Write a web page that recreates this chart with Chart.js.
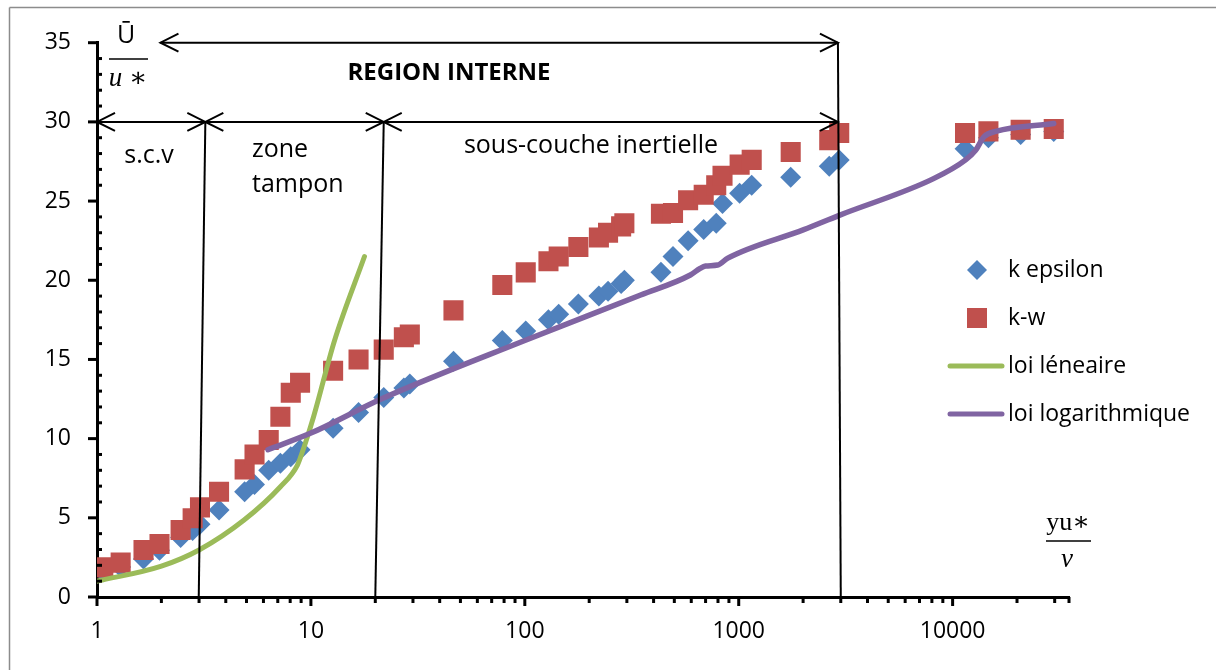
<!DOCTYPE html>
<html>
<head>
<meta charset="utf-8">
<script src="https://cdn.jsdelivr.net/npm/chart.js@4.4.0/dist/chart.umd.min.js"></script>
<style>
  html, body { margin: 0; padding: 0; background: #fff; }
  #wrap { width: 1216px; height: 670px; }
</style>
</head>
<body>
<div id="wrap"><canvas id="c" width="1216" height="670"></canvas></div>
<script>
// y+ positions shared by both simulated profiles
const yPlus = [1.07, 1.29, 1.65, 1.96, 2.46, 2.8, 3.03, 3.72, 4.9, 5.45, 6.35, 7.2, 8.05, 8.9,
  12.7, 16.7, 21.9, 27.2, 29, 46.4, 78.5, 101, 129, 144, 178, 222, 245, 282, 292, 433, 493,
  580, 686, 785, 840, 1010, 1150, 1750, 2650, 2950, 11430, 14700, 20800, 29700];

// U+ from the k-epsilon model
const uKEpsilon = [1.6, 1.9, 2.4, 2.95, 3.75, 4.2, 4.6, 5.5, 6.65, 7.1, 8.0, 8.44, 8.86, 9.3,
  10.65, 11.65, 12.6, 13.2, 13.45, 14.88, 16.2, 16.8, 17.5, 17.85, 18.5, 19.0, 19.3, 19.8, 20.0,
  20.5, 21.5, 22.5, 23.2, 23.6, 24.85, 25.5, 26.0, 26.5, 27.2, 27.6, 28.3, 29.0, 29.2, 29.4];

// U+ from the k-omega model
const uKOmega = [1.87, 2.17, 2.97, 3.35, 4.23, 4.97, 5.66, 6.65, 8.06, 9.0, 9.91, 11.38, 12.9,
  13.53, 14.29, 15.0, 15.62, 16.4, 16.58, 18.1, 19.7, 20.5, 21.2, 21.5, 22.1, 22.7, 23.0, 23.4,
  23.6, 24.2, 24.25, 25.05, 25.4, 26.0, 26.6, 27.3, 27.6, 28.1, 28.85, 29.3, 29.3, 29.4, 29.5, 29.55];

// Linear law (viscous sublayer)
const linX = [1, 2, 3, 4.87, 7.2, 8.65, 9.3, 10.3, 12.9, 17.8];
const linY = [1, 1.95, 2.97, 4.86, 6.96, 8.33, 9.49, 11.4, 16.2, 21.5];

// Logarithmic law
const logX = [6.3, 10, 21.3, 100, 348, 594, 660, 700, 797, 889, 2015, 2950, 8100, 11500, 12800, 14000, 15900, 29700];
const logY = [9.3, 10.35, 12.5, 16.2, 19.07, 20.33, 20.75, 20.9, 20.96, 21.4, 23.2, 24.1, 26.4, 27.6, 28.2, 29.05, 29.4, 29.9];

// Axis ticks
const xDecades = [1, 10, 100, 1000, 10000];
const xMinor = [2,3,4,5,6,7,8,9, 20,30,40,50,60,70,80,90, 200,300,400,500,600,700,800,900,
  2000,3000,4000,5000,6000,7000,8000,9000, 20000, 30000, 35000];
const yTickLabels = [0, 5, 10, 15, 20, 25, 30, 35];

const FONT = '"Open Sans", "DejaVu Sans", sans-serif';
const MATH = '"Liberation Serif", "DejaVu Serif", serif';
const BLUE = '#4F81BD', RED = '#C0504D', GREEN = '#9BBB59', PURPLE = '#8064A2';

const pts = (xs, ys) => xs.map((v, i) => ({ x: v, y: ys[i] }));

// Boundaries and labels of the near-wall regions (data units)
const dividers = [
  [3.21, 30, 2.99, 0],
  [21.9, 30, 20.0, 0],
  [2910, 35, 3000, 0]
];
const arrowsDef = [
  [1.98, 35, 2910, 35],
  [1, 30, 3.21, 30],
  [3.21, 30, 21.9, 30],
  [21.9, 30, 2910, 30]
];

function seg(ctx, x1, y1, x2, y2) {
  ctx.beginPath(); ctx.moveTo(x1, y1); ctx.lineTo(x2, y2); ctx.stroke();
}
function head(ctx, tx, ty, dir) {
  const L = 18, W = 9;
  ctx.beginPath();
  ctx.moveTo(tx - dir * L, ty - W);
  ctx.lineTo(tx, ty);
  ctx.lineTo(tx - dir * L, ty + W);
  ctx.stroke();
}

const regions = {
  id: 'regions',
  afterDatasetsDraw(chart) {
    const { ctx, scales: { x, y } } = chart;
    const px = v => x.getPixelForValue(v), py = v => y.getPixelForValue(v);
    ctx.save();
    ctx.strokeStyle = '#000';
    ctx.lineWidth = 2;
    dividers.forEach(d => seg(ctx, px(d[0]), py(d[1]), px(d[2]), py(d[3])));
    arrowsDef.forEach(a => {
      const x1 = px(a[0]), y1 = py(a[1]), x2 = px(a[2]), y2 = py(a[3]);
      seg(ctx, x1, y1, x2, y2);
      head(ctx, x1, y1, -1);
      head(ctx, x2, y2, 1);
    });
    ctx.fillStyle = '#000';
    ctx.textBaseline = 'alphabetic';
    ctx.font = 'bold 24px ' + FONT;
    ctx.textAlign = 'center';
    ctx.fillText('REGION INTERNE', 449, 80);
    ctx.font = '25px ' + FONT;
    ctx.fillText('s.c.v', 149, 163);
    ctx.fillText('sous-couche inertielle', 591, 153);
    ctx.textAlign = 'left';
    ctx.fillText('zone', 252, 157);
    ctx.fillText('tampon', 252, 192);
    ctx.restore();
  }
};

const axisDecor = {
  id: 'axisDecor',
  afterDraw(chart) {
    const { ctx, scales: { x, y }, chartArea: ca } = chart;
    ctx.save();
    ctx.strokeStyle = '#000';
    ctx.lineWidth = 3;
    // y: major ticks outside, minor ticks inside
    for (let v = 0; v <= 35; v++) {
      const p = y.getPixelForValue(v);
      if (v % 5 === 0) seg(ctx, ca.left - 9, p, ca.left, p);
      else seg(ctx, ca.left, p, ca.left + 5, p);
    }
    // x: all ticks outside
    xDecades.forEach(v => { const p = x.getPixelForValue(v); seg(ctx, p, ca.bottom, p, ca.bottom + 9); });
    xMinor.forEach(v => { const p = x.getPixelForValue(v); seg(ctx, p, ca.bottom, p, ca.bottom + 6); });

    // axis titles written as fractions
    ctx.fillStyle = '#000';
    ctx.textAlign = 'center';
    ctx.textBaseline = 'alphabetic';
    ctx.font = '25px ' + FONT;
    ctx.fillText('Ū', 126, 43);
    ctx.lineWidth = 1.5;
    seg(ctx, 109, 59, 148, 59);
    ctx.font = 'italic 27px ' + MATH;
    ctx.fillText('u ∗', 128, 86);

    ctx.font = '26px ' + MATH;
    ctx.fillText('yu∗', 1068, 530);
    seg(ctx, 1046, 541, 1091, 541);
    ctx.font = 'italic 27px ' + MATH;
    ctx.fillText('ν', 1067, 567);

    // outer frame
    ctx.strokeStyle = '#8c8c8c';
    ctx.lineWidth = 1.5;
    seg(ctx, 9.5, 7.5, 1216, 7.5);
    seg(ctx, 9.5, 7.5, 9.5, 670);
    ctx.restore();
  }
};

const sideLegend = {
  id: 'sideLegend',
  afterDraw(chart) {
    const { ctx } = chart;
    const ds = chart.data.datasets;
    const rows = [
      { d: ds[0], y: 270 }, { d: ds[1], y: 318 }, { d: ds[2], y: 366 }, { d: ds[3], y: 414 }
    ];
    ctx.save();
    rows.forEach(r => {
      const d = r.d;
      if (d.showLine) {
        ctx.strokeStyle = d.borderColor; ctx.lineWidth = 5; ctx.lineCap = 'round';
        seg(ctx, 950, r.y, 1002, r.y);
      } else if (d.pointStyle === 'rect') {
        ctx.fillStyle = d.backgroundColor;
        ctx.fillRect(967, r.y - 10, 20, 20);
      } else {
        ctx.fillStyle = d.backgroundColor;
        ctx.beginPath();
        ctx.moveTo(977, r.y - 10); ctx.lineTo(987, r.y); ctx.lineTo(977, r.y + 10); ctx.lineTo(967, r.y);
        ctx.closePath(); ctx.fill();
      }
      ctx.fillStyle = '#000';
      ctx.font = '23px ' + FONT;
      ctx.textAlign = 'left';
      ctx.textBaseline = 'middle';
      ctx.fillText(d.label, 1008, r.y);
    });
    ctx.restore();
  }
};

new Chart(document.getElementById('c'), {
  type: 'scatter',
  data: {
    datasets: [
      { label: 'k epsilon', data: pts(yPlus, uKEpsilon), pointStyle: 'rectRot', pointRadius: 10.5,
        backgroundColor: BLUE, borderColor: BLUE, borderWidth: 0, order: 3 },
      { label: 'k-w', data: pts(yPlus, uKOmega), pointStyle: 'rect', pointRadius: 14.2,
        backgroundColor: RED, borderColor: RED, borderWidth: 0, order: 2 },
      { label: 'loi léneaire', data: pts(linX, linY), showLine: true, pointRadius: 0,
        borderColor: GREEN, backgroundColor: GREEN, borderWidth: 5, cubicInterpolationMode: 'monotone',
        borderCapStyle: 'round', order: 1 },
      { label: 'loi logarithmique', data: pts(logX, logY), showLine: true, pointRadius: 0,
        borderColor: PURPLE, backgroundColor: PURPLE, borderWidth: 5.5, cubicInterpolationMode: 'monotone',
        borderCapStyle: 'round', order: 0 }
    ]
  },
  options: {
    responsive: false,
    animation: false,
    devicePixelRatio: 1,
    layout: { padding: { top: 42.7, right: 147, left: 0, bottom: 0 } },
    plugins: { legend: { display: false }, tooltip: { enabled: false } },
    scales: {
      x: {
        type: 'logarithmic', min: 1, max: 35000,
        grid: { display: false, drawTicks: false },
        border: { display: true, color: '#000', width: 3 },
        afterBuildTicks: s => { s.ticks = xDecades.map(v => ({ value: v })); },
        afterFit: s => { s.height = 73; },
        ticks: { color: '#000', font: { family: FONT, size: 23 }, padding: 21, maxRotation: 0, autoSkip: false,
          callback: v => String(v) }
      },
      y: {
        min: 0, max: 35,
        grid: { display: false, drawTicks: false },
        border: { display: true, color: '#000', width: 3 },
        afterBuildTicks: s => { s.ticks = yTickLabels.map(v => ({ value: v })); },
        afterFit: s => { s.width = 97; },
        ticks: { color: '#000', font: { family: FONT, size: 23 }, padding: 26 }
      }
    }
  },
  plugins: [regions, axisDecor, sideLegend]
});
</script>
</body>
</html>
